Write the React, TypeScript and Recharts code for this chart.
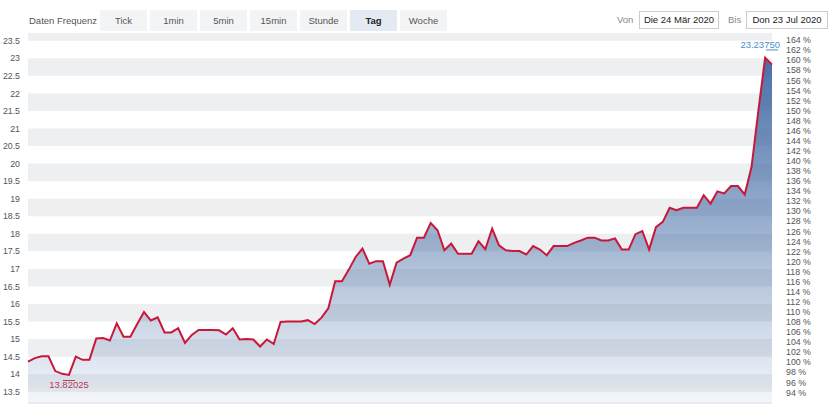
import { ComposedChart, Area, Line, XAxis, YAxis, ReferenceArea, ReferenceDot } from 'recharts';

// daily closes, 24 Mar 2020 .. 23 Jul 2020
const closes = [
  14.36, 14.46, 14.51, 14.51, 14.09, 14.01, 13.98, 14.5, 14.41, 14.41,
  15.02, 15.03, 14.96, 15.45, 15.07, 15.07, 15.43, 15.77, 15.53, 15.62,
  15.19, 15.19, 15.31, 14.89, 15.12, 15.26, 15.26, 15.26, 15.25, 15.13,
  15.31, 14.99, 15.0, 14.99, 14.79, 14.99, 14.86, 15.49, 15.5, 15.5,
  15.5, 15.54, 15.43, 15.61, 15.88, 16.65, 16.65, 16.98, 17.34, 17.58,
  17.15, 17.22, 17.22, 16.55, 17.18, 17.29, 17.39, 17.89, 17.89, 18.31,
  18.1, 17.53, 17.72, 17.43, 17.43, 17.43, 17.79, 17.56, 18.15, 17.67,
  17.53, 17.51, 17.51, 17.41, 17.65, 17.55, 17.39, 17.65, 17.65, 17.65,
  17.74, 17.81, 17.89, 17.89, 17.81, 17.81, 17.87, 17.55, 17.55, 17.99,
  18.08, 17.55, 18.19, 18.34, 18.74, 18.67, 18.74, 18.74, 18.74, 19.1,
  18.86, 19.21, 19.15, 19.36, 19.36, 19.12, 19.9, 21.5, 23.02, 22.82,
];

const priceTicks = [13.5, 14, 14.5, 15, 15.5, 16, 16.5, 17, 17.5, 18, 18.5, 19, 19.5, 20, 20.5, 21, 21.5, 22, 22.5, 23, 23.5];
const pctTicks = [94, 96, 98, 100, 102, 104, 106, 108, 110, 112, 114, 116, 118, 120, 122, 124, 126, 128, 130, 132, 134, 136, 138, 140, 142, 144, 146, 148, 150, 152, 154, 156, 158, 160, 162, 164];
const bandTops = [14, 15, 16, 17, 18, 19, 20, 21, 22, 23, 24];

const frequencies = ['Tick', '1min', '5min', '15min', 'Stunde', 'Tag', 'Woche'];
const activeFrequency = 'Tag';
const fromDate = 'Die 24 Mär 2020';
const toDate = 'Don 23 Jul 2020';

const lowValue = 13.82025;
const lowIndex = 6;
const highValue = 23.2375;
const highIndex = 109;

const basePrice = 14.34;
const yMin = 13.18;
const yMax = 23.72;

// p = performance in % relative to the base price, drives the right axis
const data = closes.map((v, i) => ({ i, v, p: (v / basePrice) * 100 }));
const font = '"Liberation Sans", Arial, Helvetica, sans-serif';

const LowMark = (p: any) => (
  <g>
    <line x1={p.cx - 6} x2={p.cx + 6} y1={p.cy} y2={p.cy} stroke="#b83a58" strokeWidth={1} />
    <text x={p.cx} y={p.cy + 7.5} textAnchor="middle" fontSize={9.5} fill="#b83a58">
      {lowValue.toFixed(5)}
    </text>
  </g>
);

const HighMark = (p: any) => (
  <g>
    <line x1={p.cx - 6} x2={p.cx + 6} y1={p.cy} y2={p.cy} stroke="#4a90c8" strokeWidth={1} />
    <text x={p.cx + 8} y={p.cy - 2} textAnchor="end" fontSize={9.5} fill="#4a90c8">
      {highValue.toFixed(5)}
    </text>
  </g>
);

export default function App() {
  return (
    <div style={{ position: 'absolute', left: 0, top: 0, width: 830, height: 415, background: '#fff', fontFamily: font }}>
      <div style={{ position: 'absolute', left: 29, top: 10, height: 21, lineHeight: '21px', fontSize: 9.5, color: '#555' }}>
        Daten Frequenz
      </div>
      {frequencies.map((f, k) => (
        <div
          key={f}
          style={{
            position: 'absolute', left: 100 + k * 50, top: 10, width: 47, height: 21, lineHeight: '21px',
            textAlign: 'center', fontSize: 9.5,
            background: f === activeFrequency ? '#e3eaf4' : '#f3f4f6',
            color: f === activeFrequency ? '#222' : '#555',
            fontWeight: f === activeFrequency ? 'bold' : 'normal',
          }}
        >
          {f}
        </div>
      ))}
      <div style={{ position: 'absolute', left: 617, top: 12, lineHeight: '16px', fontSize: 9.5, color: '#888' }}>Von</div>
      <div style={{ position: 'absolute', left: 639, top: 11, width: 78, height: 16, lineHeight: '16px', border: '1px solid #ccc', textAlign: 'center', fontSize: 9.5, color: '#222' }}>
        {fromDate}
      </div>
      <div style={{ position: 'absolute', left: 728, top: 12, lineHeight: '16px', fontSize: 9.5, color: '#888' }}>Bis</div>
      <div style={{ position: 'absolute', left: 746, top: 11, width: 80, height: 16, lineHeight: '16px', border: '1px solid #ccc', textAlign: 'center', fontSize: 9.5, color: '#222' }}>
        {toDate}
      </div>

      <div style={{ position: 'absolute', left: 0, top: 0 }}>
        <ComposedChart width={830} height={415} data={data} margin={{ top: 33, right: 0, bottom: 0, left: 0 }}>
          <defs>
            <linearGradient id="areaFill" x1="0" y1="0" x2="0" y2="1">
              <stop offset="0%" stopColor="#3a64a0" stopOpacity={0.92} />
              <stop offset="50%" stopColor="#3a64a0" stopOpacity={0.5} />
              <stop offset="100%" stopColor="#3a64a0" stopOpacity={0.05} />
            </linearGradient>
          </defs>
          <XAxis dataKey="i" type="number" domain={[0, closes.length - 1]} tick={false} tickLine={false} height={12} axisLine={{ stroke: '#d3d9e1' }} />
          <YAxis
            yAxisId="left"
            orientation="left"
            width={28}
            domain={[yMin, yMax]}
            ticks={priceTicks}
            interval={0}
            axisLine={false}
            tickLine={false}
            tick={{ fontSize: 8.8, fill: '#555' }}
          />
          <YAxis
            yAxisId="right"
            orientation="right"
            width={58}
            type="number"
            domain={[(yMin / basePrice) * 100, (yMax / basePrice) * 100]}
            allowDataOverflow
            ticks={pctTicks}
            interval={0}
            axisLine={false}
            tickLine={false}
            tickMargin={8}
            tick={{ fontSize: 8.8, fill: '#555' }}
            tickFormatter={(v: number) => `${v} %`}
          />
          {bandTops.map((t) => (
            <ReferenceArea key={t} yAxisId="left" y1={t - 0.5} y2={Math.min(t, yMax)} fill="#eeeff1" fillOpacity={1} stroke="none" />
          ))}
          <Area
            yAxisId="left"
            type="linear"
            dataKey="v"
            stroke="#c9173a"
            strokeWidth={2}
            fill="url(#areaFill)"
            fillOpacity={1}
            dot={false}
            activeDot={false}
            isAnimationActive={false}
          />
          <Line
            yAxisId="right"
            type="linear"
            dataKey="p"
            stroke="none"
            strokeOpacity={0}
            dot={false}
            activeDot={false}
            isAnimationActive={false}
          />
          <ReferenceDot yAxisId="left" x={lowIndex} y={lowValue} r={0} shape={LowMark} />
          <ReferenceDot yAxisId="left" x={highIndex} y={highValue} r={0} shape={HighMark} />
        </ComposedChart>
      </div>
    </div>
  );
}
